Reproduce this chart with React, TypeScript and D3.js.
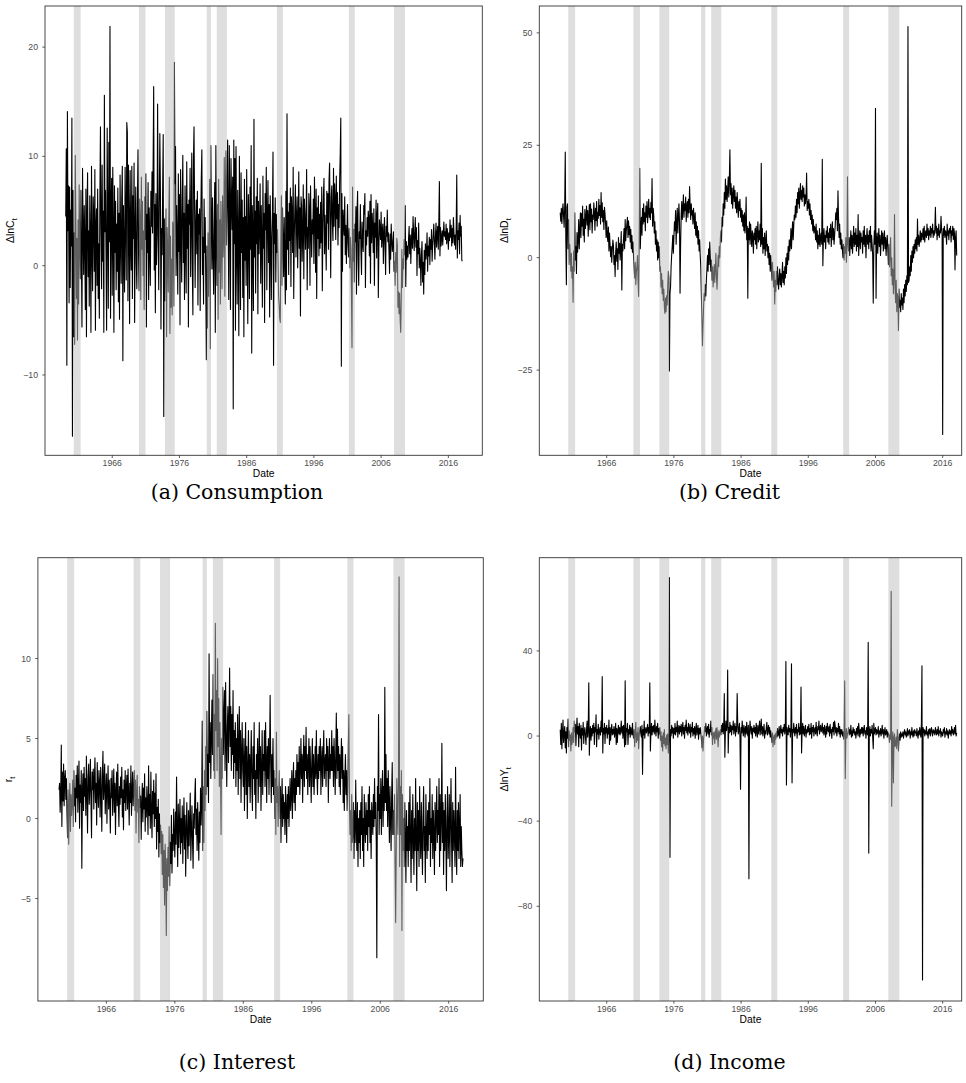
import React from "react";
import * as d3 from "d3";

// Monthly observations, first one is February 1959.
const START_YEAR = 1959 + 1 / 12;

// Annualised monthly growth of real consumption (%).
const consumption = [
  4.5, 10.7, -9.1, 14.1, 3.2, 7.3, -3.4, 7.2, -2.0, 5.1, 1.8,
  13.5, -15.6, 6.9, -6.5, 3.0, -7.2, 10.1, 4.7, -3.0, 2.5, -6.8, 4.2,
  -3.5, 7.4, 2.0, -1.2, 6.9, 0.5, -5.6, 8.9, 3.1, -0.8, 5.5, 2.2,
  -4.0, 7.0, -6.5, 4.6, 8.5, -1.0, 3.2, -3.7, 6.4, 2.8, -6.1, 9.1,
  1.5, -2.3, 6.3, 4.4, -0.5, 8.8, -5.9, 3.6, 5.2, -1.8, 7.0, -3.0,
  2.0, -4.8, 6.5, 12.7, 3.3, -2.1, 9.2, 0.4, 5.0, -6.1, 15.6, 3.1,
  6.9, 0.7, -5.9, 12.6, 4.1, -3.9, 11.3, 2.2, 21.9, -4.8, 5.4, 8.0,
  -2.7, 9.0, 3.1, -6.1, 7.3, 1.2, 5.9, -2.2, 3.8, -0.5, 7.1, -3.3,
  4.8, -4.9, 8.3, 2.7, -1.6, 6.2, 9.1, -8.7, 5.5, 0.8, -2.4, 9.0,
  3.9, -1.3, 13.1, 12.2, -3.2, 9.2, 4.1, -5.3, 8.7, 1.9, -0.4, 9.1,
  -3.0, 6.4, 2.5, 9.4, -5.2, 3.0, 7.2, 0.3, -2.1, 5.9, 10.6, 1.0,
  -2.3, 6.1, 4.0, -3.1, 8.1, 1.5, 5.9, -0.9, 3.2, -4.0, 6.3, 2.4,
  8.4, -5.6, 4.7, 1.2, 7.6, -3.1, 5.3, 2.0, -1.8, 6.8, 3.6, 8.6,
  3.0, 9.3, 16.4, -0.4, 5.6, -4.3, 6.6, 0.1, 2.8, 14.8, 3.8, -2.2,
  5.5, 12.1, 7.1, -5.8, 3.4, 1.0, 6.9, 12.0, -13.8, 4.3, -3.2, 2.5,
  5.2, -6.5, 3.5, 1.2, -2.4, 4.3, 8.1, -6.2, 2.7, -3.8, 0.6, -4.5,
  4.0, 3.1, -3.7, 18.6, 7.5, 10.9, -0.9, 5.5, 2.3, -2.6, 8.4, 1.3,
  6.5, -5.4, 8.8, 3.0, -1.5, 6.2, 10.1, 0.3, 4.8, -3.1, 7.3, 2.0,
  -2.5, 9.5, 1.6, 5.6, -5.6, 6.0, 3.8, 8.9, -1.0, 4.2, 10.3, -0.4,
  -4.5, 9.7, 12.7, 5.3, -2.0, 3.7, 6.0, 1.1, 6.8, -3.6, 4.7, 2.9,
  5.2, -4.1, 3.9, 8.1, 10.6, -0.8, 2.6, -3.5, 6.1, 1.2, 4.4, -1.5,
  -8.6, 1.8, -5.7, 3.0, -2.8, 1.4, 7.9, -7.6, 11.0, 4.5, -0.3, 6.2,
  1.2, -2.6, 3.6, 7.6, -6.1, 11.0, 2.4, -1.8, 5.6, -4.9, 7.9, -0.6,
  4.2, -3.5, 5.9, 2.5, -2.1, 6.4, 0.8, 3.0, 9.9, -2.8, 7.1, 10.5,
  1.9, 6.0, 11.5, 4.3, -3.1, 11.0, 5.2, -4.0, 9.8, 6.1, 3.3, 8.1,
  -13.1, 11.5, 2.0, 9.8, -5.9, 10.9, 1.8, -3.5, 6.9, 2.7, -6.4, 10.0,
  3.0, -4.0, 8.5, 1.2, 6.0, -2.9, 4.4, -6.5, 7.9, 0.5, 4.5, -1.8,
  8.8, 2.2, -5.3, 6.5, 3.8, -3.0, 7.2, 1.5, 11.0, -8.0, 5.5, 2.3,
  -4.1, 13.4, 0.8, 5.0, -2.5, 6.3, 2.0, 8.0, -4.4, 5.9, 1.1, 3.8,
  7.5, -1.6, 5.5, 2.2, -3.8, 8.2, 1.6, 4.8, -5.2, 6.6, 3.3, 9.0,
  -2.2, 4.1, 7.8, 0.3, 5.6, -4.7, 6.4, 2.7, -3.1, 2.6, 5.0, 10.4,
  -9.1, 4.8, 2.0, 6.2, -1.5, 4.7, 1.2, 3.3, 0.5, -2.8, -3.6, -4.8,
  -5.2, 2.1, 6.4, -1.8, 5.3, 2.0, -1.0, 4.4, 0.6, -3.5, 6.8, -2.2,
  13.9, 1.5, 4.9, -0.8, 5.7, 2.3, 7.1, -1.9, 6.3, 4.5, 1.2, 9.0,
  -3.0, 2.8, 5.2, 7.4, 0.8, 4.3, 6.3, -0.2, 3.7, 8.6, 1.6, 5.3,
  -4.6, 6.3, 5.5, 0.4, 3.0, 7.4, -1.2, 6.1, 4.8, 1.5, 3.6, 8.8,
  -2.2, 3.5, 1.6, 6.6, 5.2, -1.8, 7.3, 3.5, 0.8, 4.2, 2.9, 6.1,
  0.2, 8.1, 4.8, -0.6, 7.0, -3.0, 5.3, 2.5, 6.4, 0.9, 4.7, 1.6,
  5.8, 2.1, 7.2, -2.3, 3.1, 6.4, 8.0, 1.1, 4.6, 2.6, -0.4, 6.8,
  3.9, 6.6, 1.5, 7.8, 9.4, 3.8, -1.1, 6.3, 7.3, 4.0, 2.3, 8.9,
  3.6, 7.5, 5.9, 2.4, 8.2, 4.3, 6.7, 1.9, 5.6, 3.5, 7.9, 10.2,
  13.5, -9.2, 6.6, -0.5, 5.1, 4.0, 2.8, 6.3, 1.0, 3.7, 0.2, 2.9,
  5.6, 2.0, 0.8, 3.4, -0.2, 2.6, 1.5, -2.3, -7.5, 7.2, 0.4, 3.3,
  -1.5, 3.8, 2.2, 5.4, -2.6, 4.9, 6.8, 0.6, -1.8, 3.1, 2.5, 5.6,
  1.2, -0.8, 4.0, 2.3, 1.3, 5.5, 4.7, 6.6, -2.0, 3.2, 1.9, 4.4,
  2.7, 5.0, 4.3, 0.9, 5.9, -1.6, 6.5, 2.1, 4.8, 3.4, 1.2, 5.2,
  -1.8, 3.9, 2.6, 6.0, 0.7, 4.6, 5.7, -2.9, 1.6, 4.2, 3.3, 2.4,
  4.9, 1.7, 3.1, 3.8, 0.2, 2.8, 4.4, 1.9, -0.8, 3.6, 2.7, 5.1,
  2.2, 3.0, 1.4, -0.7, 2.9, 0.6, 3.8, 2.4, 1.3, 2.0, 3.1, -0.5,
  0.4, -1.8, 1.2, -0.6, 2.5, 1.9, -3.8, -2.4, -4.4, -2.5, -5.0, -6.1,
  -2.8, 1.5, -2.0, 0.6, -0.3, 2.4, 1.0, 5.5, -1.9, 2.2, 0.6, 1.8,
  0.8, 2.5, 3.6, 1.1, 2.8, 0.2, 2.3, 3.4, 1.6, 4.5, 3.0, 1.4,
  2.9, 4.4, 1.7, 3.5, -0.9, 2.3, 1.1, 3.9, -0.2, 1.6, 0.5, -1.8,
  1.0, 2.2, -1.5, 0.3, -2.6, 1.4, -0.8, 2.0, 0.6, 1.3, 3.0, -0.5,
  1.8, 0.9, 2.6, 0.1, 2.4, 1.5, 3.3, 0.4, 1.9, 2.8, 3.8, 2.1,
  0.6, 2.7, 3.9, 1.7, 2.9, 3.6, 1.5, 4.1, 7.7, 0.9, 3.5, 1.8,
  2.6, 3.2, 1.9, 3.0, 4.0, 2.7, 3.1, 2.4, 3.8, 2.0, 3.4, 2.8,
  1.5, 3.0, 2.3, 4.2, 2.6, 3.7, 1.8, 3.4, 2.1, 4.4, 3.0, 1.9,
  2.8, 1.5, 3.5, 8.3, 0.7, 3.2, 2.4, 3.9, 1.1, 4.6, 2.7, 3.6,
  0.5, 0.4,
];

// Annualised monthly growth of consumer credit (%).
const credit = [
  10.0, 8.1, 11.0, 7.6, 10.5, 12.0, 9.2, 6.8, 11.5, 23.5, 4.0,
  -6.0, 11.3, 12.0, 2.0, 8.5, -1.5, 3.0, 0.5, -3.0, 1.0, -4.5, -2.0,
  -9.9, 1.5, -3.0, 10.0, -0.5, 2.5, -3.5, 5.6, 1.2, 4.0, 8.5, 2.0,
  6.0, 10.0, 4.5, 9.8, 7.0, 11.5, 5.0, 8.6, 3.5, 10.7, 6.5, 9.0,
  11.5, 7.3, 10.5, 4.8, 9.1, 11.8, 6.2, 12.0, 8.0, 10.8, 5.5, 9.5,
  8.5, 12.2, 9.9, 6.1, 11.0, 8.3, 12.5, 7.0, 10.1, 8.8, 13.0, 9.4,
  11.6, 7.5, 14.5, 9.0, 12.2, 8.0, 10.5, 6.3, 11.2, 9.7, 7.6, 4.5,
  8.2, 5.0, 3.6, 6.8, 1.5, 5.5, 3.0, 0.2, 2.5, -1.0, 1.8, 3.9,
  2.8, -1.5, 0.5, -4.2, 1.2, 3.5, -0.8, 2.0, -2.6, 4.5, 1.0, 3.2,
  -0.5, 2.5, 5.8, -7.2, 3.0, 1.5, 4.2, 6.5, 2.0, 8.5, 3.8, 6.0,
  7.5, 9.0, 4.5, 8.2, 5.1, 7.0, 3.5, 6.3, 2.0, 5.0, 1.2, 3.5,
  0.0, -2.5, -4.5, -1.0, -6.0, -3.0, -2.0, 0.5, -5.0, -8.6, 3.0, 19.9,
  2.0, 6.5, 9.0, 5.0, 11.0, 7.5, 12.0, 8.0, 10.0, 6.0, 11.5, 9.0,
  12.5, 7.8, 10.3, 13.0, 9.0, 11.0, 8.5, 12.3, 10.0, 17.6, 7.0, 11.0,
  9.5, 5.5, 8.0, 3.0, 6.0, 1.5, 4.0, -0.5, 3.5, 0.0, 2.5, -3.0,
  -2.0, -6.5, -3.5, -8.0, -5.0, -9.5, -7.0, -11.0, -12.4, -9.0, -12.0, -8.5,
  -10.5, -6.0, -3.0, -4.5, -25.2, -8.0, -6.5, -2.0, 0.5, 2.5, 5.0, 1.0,
  4.5, 8.0, 6.0, 10.5, 3.0, 7.5, 11.0, 5.5, 9.0, 12.0, 8.0, -7.9,
  3.0, 9.5, 12.5, 8.5, 11.0, 14.0, 9.0, 12.0, 10.5, 13.5, 8.0, 11.5,
  12.5, 9.0, 13.0, 10.0, 15.8, 11.5, 8.5, 12.0, 9.5, 10.5, 7.5, 11.0,
  9.0, 6.5, 10.0, 5.0, 8.0, 4.5, 7.0, 3.0, 6.0, 1.5, 4.0, 0.5,
  -2.0, -8.0, -13.0, -19.6, -15.0, -11.0, -8.0, -9.5, -6.0, -8.5, -5.0, -2.5,
  0.5, -3.0, 2.0, -1.5, 3.5, 0.0, -3.0, -0.5, -5.0, -2.0, -6.5, -4.0,
  -1.5, -5.5, -2.5, 1.0, -4.0, -7.0, -3.5, 0.5, -2.0, 2.5, 0.0, 4.5,
  6.0, 3.5, 9.0, 7.0, 12.0, 9.5, 14.5, 11.0, 17.5, 13.0, 16.0, 12.5,
  15.0, 18.0, 13.5, 17.0, 24.0, 14.0, 16.5, 12.0, 15.5, 11.0, 14.0, 16.0,
  12.5, 15.0, 11.0, 13.5, 10.0, 14.5, 11.5, 9.0, 12.5, 10.5, 13.0, 9.0,
  11.0, 8.0, 10.5, 7.0, 9.5, 6.0, 10.0, 5.5, 8.0, 13.5, 4.0, 7.0,
  -9.0, 6.5, 4.0, 8.0, 3.0, 7.5, 5.0, 2.5, 6.0, 4.5, 1.0, 5.5,
  4.0, 6.5, 3.0, 7.0, 2.0, 5.5, 8.0, 3.5, 6.0, 4.0, 7.5, 2.5,
  21.0, 3.0, 6.5, 1.0, 4.5, 2.0, 5.5, 0.5, 3.5, 6.0, 1.5, 3.0,
  0.0, 2.5, -1.5, 1.0, -3.0, 0.5, -2.0, -5.0, -1.0, -4.0, -6.5, -3.0,
  -10.3, -5.0, -7.5, -3.0, -6.0, -2.0, -5.5, -7.0, -4.0, -2.5, -6.0, -3.5,
  -6.5, -4.0, -1.0, -5.5, -3.0, -6.0, -2.0, -4.5, 0.0, -3.5, 1.0, -1.5,
  2.5, -0.5, 4.0, 1.5, 3.0, 6.5, 2.0, 5.5, 8.0, 4.0, 7.0, 9.5,
  8.5, 11.5, 9.0, 13.0, 10.0, 14.5, 12.0, 15.5, 11.0, 14.0, 16.5, 13.0,
  15.0, 12.5, 16.0, 13.5, 15.5, 11.5, 14.0, 12.0, 13.5, 18.8, 10.5, 12.5,
  11.0, 13.0, 9.5, 12.0, 8.5, 10.5, 7.5, 9.5, 6.0, 8.5, 5.5, 7.0,
  6.5, 4.0, 7.5, 3.5, 6.0, 2.0, 5.0, 3.0, 6.5, 2.5, 4.5, 5.5,
  3.0, 21.9, -1.8, 4.0, 6.5, 3.5, 5.0, 2.0, 6.0, 4.5, 7.0, 3.5,
  5.5, 3.0, 6.5, 4.5, 7.5, 2.5, 5.5, 8.0, 4.0, 6.5, 3.0, 5.0,
  7.0, 10.0, 8.5, 11.0, 6.0, 14.9, 9.0, 4.5, 7.5, 3.0, 5.5, 2.0,
  4.0, 1.5, 0.0, 3.0, -0.5, 2.5, 1.0, 4.5, -1.0, 2.0, 18.0, 3.0,
  1.5, 4.5, 0.5, 3.5, 6.0, 2.0, 5.0, 1.0, 4.0, 7.0, 2.5, 5.5,
  3.0, 6.5, 1.5, 5.0, 2.5, 9.6, 0.5, 4.0, 6.0, 2.0, 5.5, 3.5,
  4.5, 1.0, 6.0, 3.0, 7.0, 2.5, 5.0, 0.0, 4.5, 6.5, 3.0, 5.0,
  2.0, 6.0, 3.5, 7.0, 1.5, 5.0, 3.0, 0.5, -10.1, 2.5, 6.0, 3.0,
  33.2, -9.0, 3.0, 5.5, 1.0, 4.0, 6.5, 2.5, 5.0, 0.5, 3.5, 6.0,
  3.0, 5.5, 1.5, 4.0, 6.0, 2.0, 4.5, 0.5, 3.5, 5.0, 2.0, -1.5,
  3.0, -2.0, 1.0, 4.5, -4.0, 0.0, -6.0, -2.5, -8.0, -4.0, 9.6, -7.0,
  -10.0, -5.0, -12.0, -8.0, -9.0, -16.2, -7.0, -11.0, -9.5, -12.0, -8.0, -10.5,
  -9.0, -11.5, -7.0, -10.0, -6.0, -8.5, -5.0, -7.5, -4.0, -6.0, 51.4, -5.5,
  -5.0, -2.0, -4.0, 0.5, -3.0, 1.5, -1.0, 2.5, 0.0, 3.0, 1.0, 4.0,
  2.0, 4.5, 1.5, 8.6, 3.0, 5.0, 2.5, 4.0, 6.0, 3.5, 5.5, 4.0,
  5.0, 6.5, 4.0, 7.0, 3.5, 5.5, 6.0, 4.5, 7.5, 5.0, 6.5, 4.0,
  6.0, 5.0, 7.0, 4.5, 6.5, 5.5, 7.5, 4.5, 6.0, 5.0, 6.5, 11.2,
  5.5, 7.0, 4.0, 6.5, 5.0, 7.5, 4.5, 6.0, 5.5, 9.2, 6.5, 5.0,
  -39.3, 6.5, 5.0, 7.0, 4.5, 6.0, 5.5, 3.0, 7.5, 5.0, 6.0, 4.0,
  6.5, 5.5, 7.0, 3.5, 6.0, 5.0, 7.0, 4.0, 6.5, 5.5, -2.7, 4.5,
  6.0, 0.5,
];

// Real interest rate (%).
const interest = [
  1.8, 2.2, 0.4, 1.5, 4.6, -0.5, 2.9, 1.1, 3.4, 0.8, 2.5,
  3.0, 1.2, 2.5, 0.3, -1.2, 1.8, -1.6, 0.9, 2.2, -0.8, 1.5, 0.2,
  1.0, 2.4, -0.5, 3.0, 0.8, 1.9, -0.2, 2.7, 1.3, 3.3, 0.4, 2.0,
  3.6, -0.6, 2.1, 1.0, 3.0, -3.1, 1.7, 2.8, 0.5, 3.2, 1.4, 2.5,
  0.2, 3.9, 1.6, -0.9, 2.6, 3.4, 0.9, 2.0, 3.7, 1.1, -1.2, 2.9,
  1.8, 3.1, 0.6, 2.4, 3.8, 1.0, 2.2, -0.4, 3.5, 1.9, 0.7, 3.0,
  2.3, 0.1, 3.2, 1.5, -0.8, 2.7, 4.2, 1.2, 2.0, 3.4, 0.3, 1.6,
  2.8, -0.3, 1.9, 3.3, 0.6, 2.4, 1.0, -0.9, 2.5, 1.3, 3.0, 0.2,
  1.6, 3.1, 0.4, 2.2, -1.0, 1.7, 2.9, 0.8, 3.4, 1.1, -0.5, 2.0,
  0.9, 2.6, 1.3, 3.2, 0.1, 1.8, -0.7, 2.4, 1.0, 3.0, 0.5, 1.9,
  2.7, 0.6, 3.1, 1.4, -0.4, 2.2, 1.0, 3.3, 0.2, 1.6, 2.9, 0.8,
  1.8, 3.0, 0.5, 2.4, -0.9, 1.6, 2.7, 0.4, 1.2, -1.5, 2.0, 0.7,
  1.4, -1.3, 0.9, 2.2, -0.2, 1.9, 0.6, 2.8, -0.8, 1.3, 0.1, 2.0,
  0.8, -1.0, 3.3, 0.2, 1.5, -0.6, 2.9, 0.4, -1.2, 1.7, 0.3, 2.4,
  -0.5, 1.6, 0.0, 2.8, -1.9, 0.7, -0.8, 1.2, -2.4, 0.3, -1.5, -0.4,
  -2.2, -0.8, -3.5, -1.0, -4.3, -2.0, -5.4, -1.6, -3.0, -7.3, -2.5, -4.5,
  -1.8, -3.6, -0.5, -4.2, -1.5, -2.8, 0.2, -3.4, -1.0, -2.0, 0.6, -1.3,
  -2.4, 0.4, -1.6, 2.6, -0.6, -3.0, 0.9, -1.8, -0.3, 1.2, -2.2, 0.0,
  -1.5, 0.8, -2.8, -0.4, 1.3, -1.9, 0.2, -3.6, -0.8, 1.0, -1.2, -2.5,
  0.5, -1.7, -0.2, 1.6, -2.6, -0.9, 0.8, -1.4, -3.1, 0.3, -0.6, 1.4,
  2.5, -1.0, 0.6, -2.0, 1.0, -0.8, -2.6, 0.4, -1.5, 1.9, -0.4, 0.9,
  6.1, -2.0, 2.0, -1.5, 3.0, 0.5, 4.5, 1.5, 6.7, 2.0, 4.0, 1.0,
  10.3, 3.5, 6.0, 2.5, 5.0, 7.4, 4.0, 9.0, 3.0, 6.5, 2.5, 12.2,
  5.5, 8.0, 3.0, 10.0, 4.5, 7.5, 2.0, 6.0, 3.5, -1.0, 5.0, 2.5,
  8.2, 4.0, 6.5, 8.0, 3.0, 8.5, 5.0, 2.0, 5.7, 7.0, 3.5, 6.0,
  9.4, 4.5, 7.0, 3.0, 6.5, 4.0, 8.0, 2.5, 5.5, 3.5, 6.0, 2.0,
  5.0, 3.0, 6.5, 1.5, 4.5, 7.0, 2.5, 5.5, 1.0, 4.0, 6.0, 3.0,
  2.0, 5.0, 0.5, 3.5, 6.0, 1.5, 4.5, 0.0, 3.0, 5.5, 2.0, 4.0,
  1.0, 3.5, 5.5, 2.0, 0.5, 4.5, 2.5, 6.0, 1.5, 3.0, 0.0, 4.0,
  2.5, 5.0, 1.0, 3.5, 6.0, 2.0, 4.5, 0.5, 3.0, 5.5, 1.5, 4.0,
  3.0, 5.5, 2.0, 6.0, 3.5, 1.0, 4.5, 2.5, 5.0, 1.5, 4.0, 7.7,
  3.5, 1.0, 4.0, 2.0, 5.0, 1.5, 3.0, 0.0, 2.5, -1.0, 5.4, 1.0,
  2.0, -0.5, 1.5, 3.0, 0.0, 2.0, -1.5, 1.0, 2.5, -0.5, 1.5, 0.0,
  1.0, -1.0, 2.0, 0.5, -1.5, 1.5, 0.0, 2.0, -0.5, 1.0, 2.5, 0.5,
  1.5, 3.0, 0.0, 2.0, 3.5, 1.0, 2.5, 0.5, 3.0, 1.5, 4.0, 2.0,
  3.5, 2.0, 4.5, 1.5, 3.0, 5.0, 2.5, 4.0, 1.0, 3.5, 5.2, 2.0,
  4.5, 3.0, 5.7, 2.5, 4.0, 1.5, 3.5, 5.0, 2.0, 4.5, 3.0, 1.0,
  3.5, 5.0, 2.0, 4.0, 1.5, 3.0, 4.5, 2.5, 5.5, 3.0, 1.5, 4.0,
  2.5, 4.5, 3.0, 5.0, 1.5, 3.5, 4.5, 2.0, 4.0, 5.5, 2.5, 3.5,
  4.0, 2.0, 5.0, 3.0, 4.5, 1.0, 3.5, 5.0, 2.5, 4.0, 3.0, 5.5,
  3.0, 4.5, 2.0, 5.0, 3.5, 1.5, 4.0, 6.6, 2.5, 5.6, 3.0, 4.5,
  2.0, 4.0, 1.5, 3.5, 5.0, 2.5, 4.5, 1.0, 3.0, 0.5, 2.5, 4.0,
  1.5, 3.0, 0.5, 2.0, 4.5, 6.5, 1.0, -1.0, 0.5, -2.0, 1.5, -1.5,
  -1.0, 1.0, -2.5, 0.5, -1.5, 2.4, -0.5, -2.0, 1.0, -3.0, 0.0, -1.5,
  0.5, -2.5, 1.0, -1.0, 2.0, -2.0, 0.0, -3.0, 1.5, -0.5, -1.5, 1.0,
  -1.0, 0.5, -2.0, 1.5, -0.5, 2.0, -1.5, 0.5, -2.5, 1.0, 0.0, -1.0,
  1.5, -0.5, 2.5, 0.0, 1.0, -1.5, -8.7, 2.0, 0.5, 6.5, -1.0, 1.5,
  0.0, 2.5, -1.0, 1.5, 3.0, -0.5, 2.0, 0.5, 8.2, 1.0, 4.0, 0.5,
  2.5, -0.5, 3.0, 1.0, -1.5, 2.0, 0.0, -2.0, 1.5, 3.5, -1.0, 0.5,
  -1.0, 1.5, -3.0, -6.5, -2.0, 2.5, 0.5, -1.0, 3.0, 15.1, -3.0, 2.0,
  -1.0, 3.0, -7.0, 1.5, -2.0, 0.0, -3.0, 1.0, -1.5, -4.0, 0.5, -2.0,
  -0.5, -3.0, 1.0, -2.0, 2.0, -1.0, -4.0, 0.5, -2.5, 1.5, -1.0, -3.5,
  0.0, -2.0, 2.5, -1.5, -4.5, 1.0, -2.0, 0.5, -3.0, 2.0, -1.0, -2.5,
  1.0, -1.5, -3.5, 0.0, 2.0, -2.0, -0.5, -4.0, 1.5, -1.0, -2.5, 0.5,
  -2.0, 1.0, -1.0, 2.5, -3.0, 0.0, -1.5, 1.5, -2.5, 0.5, -1.0, -3.5,
  1.0, -2.0, 0.0, 2.0, -1.5, 0.5, -1.0, 2.5, -3.0, 1.5, -2.0, 0.0,
  4.7, -1.5, 1.0, -3.5, 0.5, -2.0, 1.5, -1.0, -4.5, 0.0, 2.0, -2.5,
  -1.0, 1.5, -3.0, 0.0, 2.5, -1.5, -4.0, 1.0, -2.0, 0.5, -1.0, -3.0,
  3.2, -1.5, -3.5, 0.5, -2.0, 1.0, -2.5, -0.5, 1.5, -3.0, -0.5, -2.0,
  -3.0, -2.5,
];

// Annualised monthly growth of real income (%).
const income = [
  3.0, -4.0, 6.0, -6.0, 2.0, 7.5, -3.0, 1.0, 4.5, -5.5, 2.0,
  -8.0, 4.0, -1.0, 8.0, -5.0, 2.5, -2.0, 0.5, -7.0, 1.5, -4.0, -1.0,
  4.0, -3.0, 7.0, 2.0, 5.5, -4.5, 3.0, 8.5, 1.0, 4.5, -5.0, 6.0,
  1.5, -1.0, 5.0, -6.5, 3.5, 0.5, 6.5, -3.5, 2.0, 4.0, 0.0, -4.0,
  3.0, 7.0, -0.5, 2.5, 25.0, -9.0, 1.0, 4.5, -2.0, 3.5, 0.0, 5.0,
  1.5, 6.0, -4.0, 4.0, 2.0, 10.0, -5.0, 3.0, 1.0, 5.5, -1.5, 2.5,
  4.0, 0.5, 7.0, 2.0, 28.0, -8.0, 3.5, 1.0, 6.0, -3.5, 4.0, 1.5,
  5.0, -1.0, 3.5, 1.0, 7.5, -4.0, 4.0, -2.0, 2.5, 5.5, 0.5, 3.0,
  1.0, 4.5, -0.5, 2.0, 6.0, -4.0, 3.5, -3.0, 2.5, 5.0, 1.0, 4.0,
  0.5, 3.0, 7.0, 1.5, 4.5, -1.0, 5.0, 2.0, -5.0, 26.0, -4.0, 3.5,
  2.0, 6.0, -4.0, 3.0, 1.0, 5.0, -0.5, 4.0, 2.0, 0.5, 6.0, 1.0,
  -1.0, 3.0, -5.0, 2.0, 6.5, -3.0, 1.5, -2.0, 4.0, -6.0, 0.0, 3.0,
  4.5, 1.0, -0.5, 5.0, -18.0, 3.0, 0.5, 7.0, -1.0, 2.5, 4.0, 1.5,
  3.0, 5.5, 0.0, 4.0, 1.5, 25.0, -7.0, 2.0, 6.0, 0.5, 4.5, 2.0,
  5.0, 1.0, 7.5, 3.0, 0.0, 4.5, 2.0, 6.0, -1.0, 3.5, 1.0, 4.0,
  -2.0, 2.0, -5.0, 0.0, -7.0, 1.5, -3.5, 3.0, -4.5, -1.0, -6.0, 0.5,
  -4.0, 1.0, -8.0, 2.0, 74.5, -57.0, 3.0, 0.0, 5.0, 1.5, 4.0, -1.0,
  3.5, 1.0, 6.0, 0.5, 4.0, 2.0, 7.0, -0.5, 3.0, 5.0, 1.0, 4.5,
  2.0, 5.5, 0.0, 3.5, 6.5, 1.0, 4.0, -1.0, 5.0, 2.5, 7.5, 1.5,
  4.0, 0.5, 6.0, 3.0, 1.5, 5.5, -0.5, 4.0, 2.0, 6.5, 0.0, 3.5,
  1.0, 4.5, -1.0, 3.0, 6.0, 0.5, 2.5, 5.0, -1.5, 3.5, 1.0, 4.0,
  2.0, -1.0, -5.5, 0.0, -7.0, -1.5, 1.0, 4.5, 2.0, 6.0, 0.0, 3.0,
  4.5, 1.0, 5.5, -0.5, 3.0, 2.0, 7.0, 0.5, 4.0, -4.0, 1.5, -1.0,
  2.0, -3.5, 1.0, 3.5, -1.5, 4.0, 0.0, -5.0, 2.5, -0.5, 1.0, 3.0,
  0.5, 5.0, 2.0, 6.0, 1.0, 4.5, 20.0, -10.0, 3.0, 7.0, 2.5, 5.0,
  31.0, -8.0, 4.0, 1.5, 6.5, 2.0, 5.0, 0.5, 4.5, 3.0, 7.0, 1.0,
  3.5, 6.0, 0.0, 4.5, 2.0, 20.0, 5.5, 1.0, 3.0, 6.0, -0.5, -25.0,
  4.0, 1.5, 7.0, 2.5, 0.0, 5.0, 3.0, -0.5, 4.5, 1.0, 6.5, 2.0,
  0.0, 5.0, -67.0, 2.0, 7.0, 3.0, 1.0, 4.5, -1.0, 3.5, 2.0, 5.0,
  1.5, 4.0, 0.0, 6.0, 2.5, -0.5, 5.0, 1.0, 3.5, 7.0, 0.5, 4.0,
  8.0, 1.0, 4.5, 0.0, 3.0, 5.5, -1.0, 2.5, 1.0, 4.0, 6.5, 0.5,
  3.0, 5.0, 1.0, 4.0, -0.5, 2.5, 0.0, -3.0, 1.5, -5.0, -1.0, 0.5,
  -4.0, 1.0, -1.5, 2.0, -0.5, 3.5, 0.0, 1.0, 4.5, -1.0, 2.0, 5.0,
  1.5, 3.0, 0.0, 4.0, 2.0, 5.5, 1.0, 3.5, 35.0, -23.0, 4.0, 2.0,
  0.5, 5.0, 2.0, 3.5, -0.5, 4.0, 34.0, -22.0, 3.0, 1.5, 6.0, 2.5,
  0.0, 4.0, 1.5, 5.5, -1.0, 3.0, 2.0, 6.0, 0.5, 4.0, 1.0, 23.0,
  -8.0, 3.0, 6.0, 1.0, 4.5, 0.0, 2.5, 5.0, -0.5, 3.0, 1.5, 4.5,
  2.0, 5.5, 0.5, 3.5, 1.0, 6.0, -1.0, 4.0, 2.0, 5.0, 0.0, 3.0,
  4.0, 1.0, 6.5, 2.0, 0.0, 4.5, 3.0, 7.0, 1.0, 3.5, 5.0, 2.0,
  3.0, 6.0, 1.5, 4.0, 0.5, 5.0, 2.5, -0.5, 4.5, 1.0, 6.0, 3.0,
  2.0, 4.5, 0.0, 5.5, 1.5, 3.0, -1.0, 4.0, 2.0, 6.5, 0.5, 7.0,
  5.0, 1.5, 4.0, 0.0, 3.5, 2.0, 6.0, 1.0, 4.5, -0.5, 3.0, 1.0,
  3.0, 0.0, 2.0, -1.5, 1.5, 26.0, -20.0, 0.0, 3.5, -1.0, 1.0, 2.0,
  4.0, 0.5, 3.0, 1.0, 5.0, -0.5, 2.5, 0.0, 4.0, 1.5, 3.0, 0.5,
  2.0, -1.0, 3.5, 1.0, 4.5, 0.0, 6.0, 2.5, -0.5, 3.0, 1.0, 4.0,
  1.5, 4.0, 0.0, 3.0, 5.0, 1.0, 2.5, -1.0, 4.0, 1.5, 0.5, 44.0,
  -55.0, 2.0, 4.5, 0.0, 3.0, 1.5, 5.0, -0.5, -6.0, 6.0, 1.0, 3.0,
  4.0, 0.5, 3.0, 1.0, 2.0, 4.5, -0.5, 2.5, 1.0, 3.5, 0.0, 2.0,
  5.0, 1.0, 3.0, -1.0, 2.0, 4.0, 0.5, 1.5, 3.0, -0.5, 2.0, 1.0,
  0.0, -3.0, 1.0, -1.5, 68.0, -33.0, -4.0, 2.0, -22.0, -1.0, 1.0, -5.0,
  -4.0, -0.5, -6.0, 3.0, 0.0, -7.0, -1.0, 1.0, -2.0, 2.0, -0.5, 1.0,
  0.0, 2.0, -1.0, 1.5, 3.0, 0.5, 2.0, -0.5, 1.0, 3.5, 0.0, 2.5,
  1.0, 3.0, -1.0, 2.0, 0.5, 4.0, 1.0, -0.5, 2.5, 0.0, 3.0, 1.5,
  2.0, 0.0, 3.5, 1.0, -1.0, 2.5, 0.5, 4.0, 1.5, -0.5, 6.0, 33.0,
  -114.6, 4.0, 1.5, 3.0, 0.0, 2.5, 1.0, 4.5, 0.5, 2.0, -1.0, 3.0,
  1.0, 3.5, 0.0, 2.5, 4.0, 1.5, 0.0, 3.0, 1.5, 2.5, 0.5, 4.0,
  2.0, 0.5, 3.0, 1.0, 4.5, 0.0, 2.5, 1.5, 3.5, -0.5, 2.0, 1.0,
  0.0, 3.0, 1.5, 4.0, -0.5, 2.0, 1.0, 3.5, 0.5, 2.5, -1.0, 1.5,
  3.0, 1.0, 2.5, 0.0, 4.5, 1.5, 3.0, 0.5, 2.0, 4.0, 1.0, 5.0,
  0.0, 1.5,
];

// NBER recession periods (decimal years).
const recessionStart = [1960.28, 1969.98, 1973.84, 1980.06, 1981.55, 1990.5, 2001.2, 2007.92];
const recessionEnd = [1961.3, 1970.95, 1975.3, 1980.68, 1983.05, 1991.38, 2002.08, 2009.55];

const yearTicks = [1966, 1976, 1986, 1996, 2006, 2016];
const consumptionTicks = [-10, 0, 10, 20];
const creditTicks = [-25, 0, 25, 50];
const interestTicks = [-5, 0, 5, 10];
const incomeTicks = [-80, -40, 0, 40];

type PanelSpec = {
  data: number[];
  ticks: number[];
  symbol: string;
  caption: string;
  frame: { l: number; r: number; t: number; b: number };
  xDomain: [number, number];
  yDomain: [number, number];
  titleX: number;
  captionX: number;
  captionY: number;
};

const panels: PanelSpec[] = [
  {
    data: consumption, ticks: consumptionTicks, symbol: "ΔlnC", caption: "(a) Consumption",
    frame: { l: 45, r: 482.3, t: 6, b: 455.3 }, xDomain: [1956.0, 2021.05], yDomain: [-17.35, 23.76],
    titleX: 14, captionX: 237, captionY: 499,
  },
  {
    data: credit, ticks: creditTicks, symbol: "ΔlnD", caption: "(b) Credit",
    frame: { l: 539.3, r: 961.7, t: 6, b: 455.3 }, xDomain: [1955.97, 2018.83], yDomain: [-43.95, 55.98],
    titleX: 508, captionX: 729.5, captionY: 499,
  },
  {
    data: interest, ticks: interestTicks, symbol: "r", caption: "(c) Interest",
    frame: { l: 37.9, r: 483.3, t: 557.7, b: 1001 }, xDomain: [1956.0, 2021.05], yDomain: [-11.4, 16.3],
    titleX: 12, captionX: 237, captionY: 1069,
  },
  {
    data: income, ticks: incomeTicks, symbol: "ΔlnY", caption: "(d) Income",
    frame: { l: 539.3, r: 961.7, t: 557.7, b: 1001 }, xDomain: [1955.97, 2018.83], yDomain: [-124.5, 83.8],
    titleX: 508, captionX: 729.5, captionY: 1069,
  },
];

const SANS = "'Liberation Sans', Arial, Helvetica, sans-serif";
const SERIF = "'DejaVu Serif', 'Liberation Serif', serif";

function fmt(v: number) {
  return v < 0 ? "\u2212" + Math.abs(v) : String(v);
}

function Panel({ p }: { p: PanelSpec }) {
  const { l, r, t, b } = p.frame;
  const x = d3.scaleLinear().domain(p.xDomain).range([l, r]);
  const y = d3.scaleLinear().domain(p.yDomain).range([b, t]);
  const line = d3
    .line<number>()
    .x((_, i) => x(START_YEAR + i / 12))
    .y((d) => y(d));
  const midX = (l + r) / 2;
  const midY = (t + b) / 2;

  return (
    <g>
      <path d={line(p.data) ?? ""} fill="none" stroke="#000" strokeWidth={1.1} strokeLinejoin="round" />
      {recessionStart.map((s, i) => (
        <rect
          key={i}
          x={x(s)}
          y={t}
          width={x(recessionEnd[i]) - x(s)}
          height={b - t}
          fill="#bebebe"
          fillOpacity={0.5}
        />
      ))}
      <rect x={l} y={t} width={r - l} height={b - t} fill="none" stroke="#333" strokeWidth={0.9} />
      {p.ticks.map((v) => (
        <g key={v}>
          <line x1={l - 2.7} x2={l} y1={y(v)} y2={y(v)} stroke="#333" strokeWidth={0.8} />
          <text x={l - 7} y={y(v)} dy="0.35em" textAnchor="end" fontFamily={SANS} fontSize={8.7} fill="#4d4d4d">
            {fmt(v)}
          </text>
        </g>
      ))}
      {yearTicks.map((yr) => (
        <g key={yr}>
          <line x1={x(yr)} x2={x(yr)} y1={b} y2={b + 2.7} stroke="#333" strokeWidth={0.8} />
          <text x={x(yr)} y={b + 11} textAnchor="middle" fontFamily={SANS} fontSize={8.7} fill="#4d4d4d">
            {yr}
          </text>
        </g>
      ))}
      <text x={midX} y={b + 21.8} textAnchor="middle" fontFamily={SANS} fontSize={10.3} fill="#000">
        Date
      </text>
      <text
        transform={`translate(${p.titleX},${midY}) rotate(-90)`}
        textAnchor="middle"
        fontFamily={SANS}
        fontSize={10.5}
        fill="#000"
      >
        {p.symbol}
        <tspan fontSize={7.5} dy={2.5}>t</tspan>
      </text>
      <text x={p.captionX} y={p.captionY} textAnchor="middle" fontFamily={SERIF} fontSize={20.5} fill="#000">
        {p.caption}
      </text>
    </g>
  );
}

export default function App() {
  return (
    <svg
      width={966}
      height={1083}
      viewBox="0 0 966 1083"
      style={{ position: "absolute", left: 0, top: 0, background: "#fff" }}
    >
      <rect width={966} height={1083} fill="#fff" />
      {panels.map((p, i) => (
        <Panel key={i} p={p} />
      ))}
    </svg>
  );
}
